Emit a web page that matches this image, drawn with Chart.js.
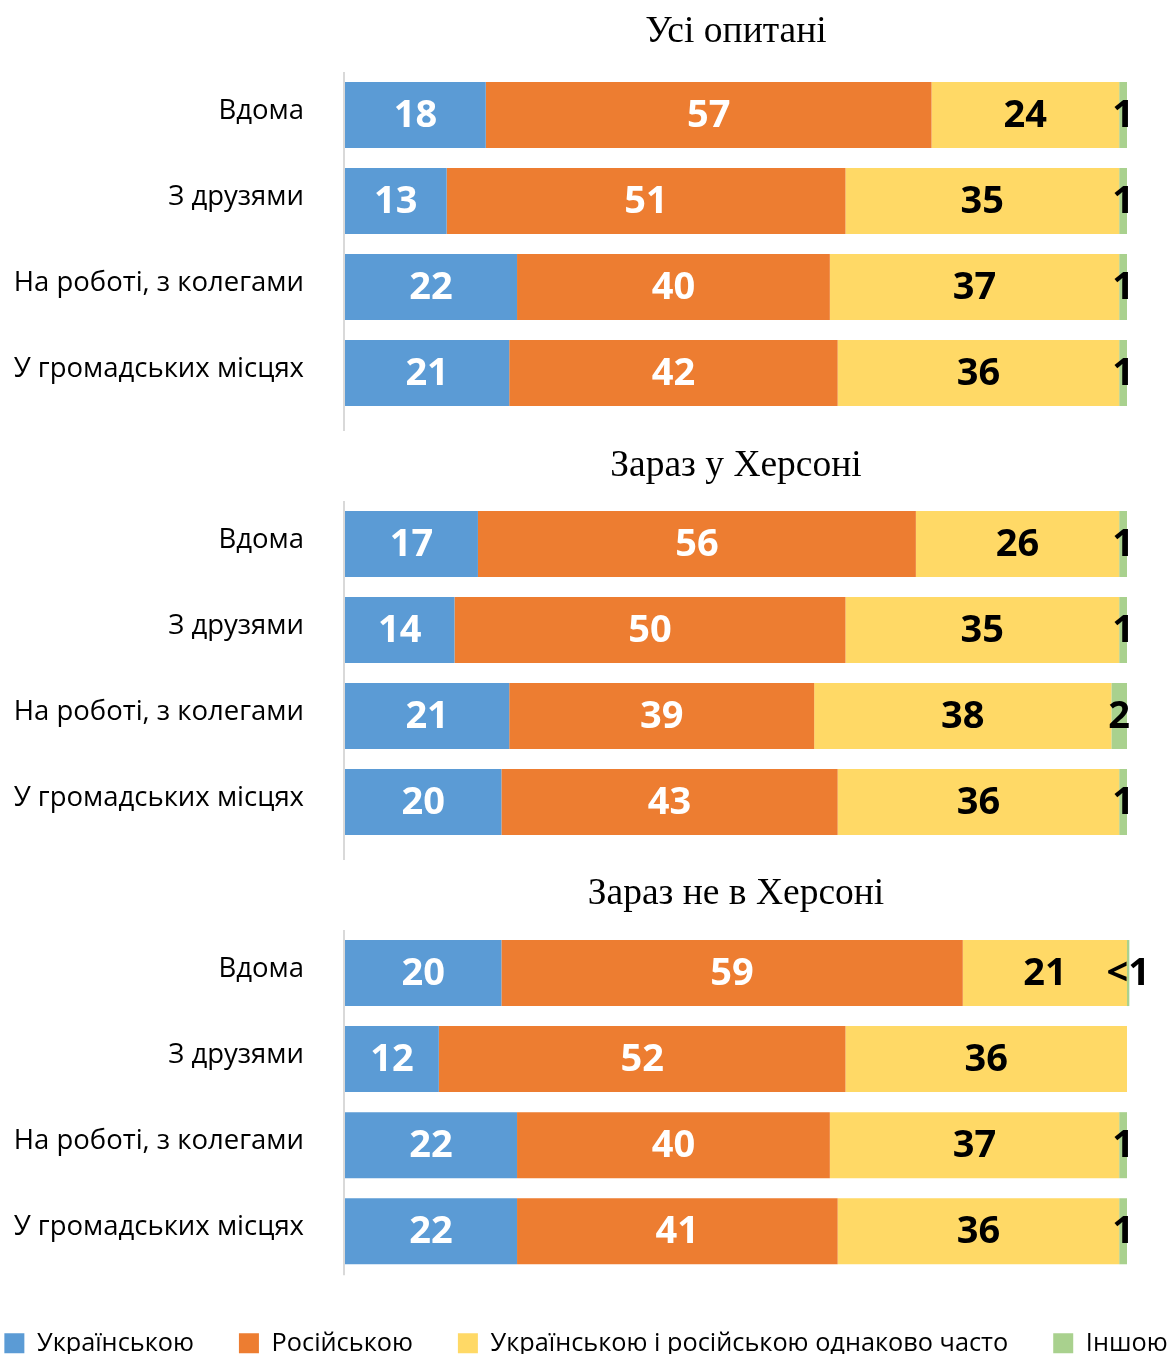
<!DOCTYPE html>
<html><head><meta charset="utf-8">
<script src="https://cdn.jsdelivr.net/npm/chart.js@4.4.1/dist/chart.umd.min.js"></script>
<style>
html,body{margin:0;padding:0;background:#fff;overflow:hidden;width:1169px;height:1354px;position:relative;}
canvas{position:absolute;}
</style></head><body>
<canvas id="c1" width="1169" height="432" style="left:0px;top:0px"></canvas>
<canvas id="c2" width="1169" height="432" style="left:0px;top:432px"></canvas>
<canvas id="c3" width="1260" height="502" style="left:-44px;top:864px"></canvas>
<script>
const categories = ['Вдома', 'З друзями', 'На роботі, з колегами', 'У громадських місцях'];
const seriesNames = ['Українською', 'Російською', 'Українською і російською однаково часто', 'Іншою'];
const seriesColors = ['#5B9BD5', '#ED7D31', '#FFD966', '#A9D18E'];
const labelColors = ['#ffffff', '#ffffff', '#000000', '#000000'];
const panelTitles = ['Усі опитані', 'Зараз у Херсоні', 'Зараз не в Херсоні'];

// Усі опитані
const allUkr = [18, 13, 22, 21];
const allRus = [57, 51, 40, 42];
const allBoth = [24, 35, 37, 36];
const allOther = [1, 1, 1, 1];
// Зараз у Херсоні
const inUkr = [17, 14, 21, 20];
const inRus = [56, 50, 39, 43];
const inBoth = [26, 35, 38, 36];
const inOther = [1, 1, 2, 1];
// Зараз не в Херсоні (0.3 is shown as "<1")
const outUkr = [20, 12, 22, 22];
const outRus = [59, 52, 40, 41];
const outBoth = [21, 36, 37, 36];
const outOther = [0.3, null, 1, 1];

const LABEL_FONT = '"Open Sans", "Noto Sans", sans-serif';

const valueLabels = {
  id: 'valueLabels',
  afterDatasetsDraw(chart) {
    const ctx = chart.ctx;
    ctx.save();
    ctx.font = 'bold 38px ' + LABEL_FONT;
    ctx.textAlign = 'center';
    ctx.textBaseline = 'middle';
    chart.data.datasets.forEach((ds, i) => {
      const meta = chart.getDatasetMeta(i);
      meta.data.forEach((bar, j) => {
        const v = ds.data[j];
        if (v == null) return;
        const txt = v < 1 ? '<1' : String(v);
        const x = (bar.x + bar.base) / 2;
        ctx.fillStyle = labelColors[i];
        ctx.fillText(txt, x, bar.y + 1);
      });
    });
    ctx.restore();
  }
};

const axisLine = {
  id: 'axisLine',
  beforeDatasetsDraw(chart, args, opts) {
    const a = chart.chartArea;
    const ctx = chart.ctx;
    ctx.save();
    ctx.strokeStyle = '#d9d9d9';
    ctx.lineWidth = 2;
    ctx.beginPath();
    ctx.moveTo(a.left - 1, a.top);
    ctx.lineTo(a.left - 1, a.bottom + (opts.extra || 0));
    ctx.stroke();
    ctx.restore();
  }
};

function makeChart(id, title, d1, d2, d3, d4, cfg) {
  const datasets = [d1, d2, d3, d4].map((d, i) => ({
    label: seriesNames[i],
    data: d,
    backgroundColor: seriesColors[i],
    borderWidth: 0,
    barPercentage: 0.767,
    categoryPercentage: 1,
    clip: false
  }));
  const scales = {
    x: cfg.legend ? {
      stacked: true, min: 0, max: 100, display: true,
      grid: { display: false, drawTicks: false }, border: { display: false },
      ticks: { display: false },
      afterFit(s) { s.height = cfg.gap; }
    } : { stacked: true, min: 0, max: 100, display: false },
    y: {
      stacked: true,
      grid: { display: false, drawTicks: false },
      border: { display: false },
      ticks: { font: { family: LABEL_FONT, size: 27.5 }, color: '#000', padding: 41, labelOffset: -4 },
      afterFit(s) { s.width = cfg.left; s.paddingTop = 0; s.paddingBottom = 0; }
    }
  };
  if (cfg.rightSpace) {
    scales.yR = {
      type: 'category', labels: categories, position: 'right', display: true,
      grid: { display: false, drawTicks: false }, border: { display: false },
      ticks: { display: false },
      afterFit(s) { s.width = cfg.rightSpace; s.paddingTop = 0; s.paddingBottom = 0; }
    };
  }
  return new Chart(document.getElementById(id), {
    type: 'bar',
    data: { labels: categories, datasets },
    plugins: [axisLine, valueLabels],
    options: {
      indexAxis: 'y',
      responsive: false,
      animation: false,
      layout: { padding: { left: 0, right: cfg.padRight, top: 0, bottom: cfg.bottom } },
      scales,
      plugins: {
        axisLine: { extra: cfg.extra },
        title: {
          display: true,
          text: title,
          fullSize: false,
          color: '#000',
          font: { family: '"Liberation Serif", "Times New Roman", serif', size: 37.5, weight: 'normal', lineHeight: 1.2 },
          padding: { top: cfg.tTop, bottom: cfg.tBottom }
        },
        legend: {
          display: !!cfg.legend,
          position: 'bottom',
          labels: {
            boxWidth: 20, boxHeight: 20, padding: 45,
            color: '#000',
            font: { family: LABEL_FONT, size: 25.3 }
          }
        },
        tooltip: { enabled: false }
      }
    }
  });
}

makeChart('c1', panelTitles[0], allUkr, allRus, allBoth, allOther,
  { left: 345, padRight: 42, tTop: 9.5, tBottom: 17.5, bottom: 16, extra: 15 });
makeChart('c2', panelTitles[1], inUkr, inRus, inBoth, inOther,
  { left: 345, padRight: 42, tTop: 11.5, tBottom: 12.5, bottom: 19, extra: 15 });
makeChart('c3', panelTitles[2], outUkr, outRus, outBoth, outOther,
  { left: 389, padRight: 0, rightSpace: 89, tTop: 8, tBottom: 13, bottom: 0, extra: 1, legend: true, gap: 11.4 });
</script>
</body></html>
